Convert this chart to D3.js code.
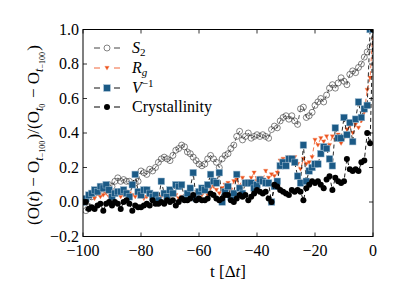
<!DOCTYPE html>
<html><head><meta charset="utf-8">
<script src="https://cdn.jsdelivr.net/npm/d3@7"></script>
<style>body{margin:0;background:#fff}svg{display:block}</style>
</head><body><svg id="c" width="415" height="297" font-family="'Liberation Serif', 'DejaVu Serif', serif"></svg>
<script>
const tValues = d3.range(-100, 1);
const s2 = [0.00,-0.05,-0.03,0.03,0.05,0.06,0.05,0.08,0.07,0.10,0.09,0.12,0.14,0.12,0.13,0.12,0.12,0.10,0.11,0.12,
0.18,0.17,0.16,0.19,0.18,0.20,0.23,0.25,0.26,0.25,0.24,0.27,0.30,0.31,0.33,0.32,0.29,0.28,0.26,0.24,
0.22,0.21,0.22,0.25,0.27,0.25,0.23,0.20,0.25,0.27,0.28,0.31,0.33,0.38,0.41,0.36,0.38,0.40,0.37,0.38,
0.39,0.38,0.39,0.38,0.37,0.42,0.44,0.43,0.47,0.49,0.50,0.48,0.50,0.47,0.45,0.54,0.55,0.49,0.50,0.52,
0.56,0.58,0.60,0.58,0.62,0.66,0.68,0.66,0.69,0.72,0.70,0.68,0.74,0.76,0.75,0.78,0.80,0.84,0.87,0.90,1.00];
const rg = [0.00,0.02,0.03,0.04,0.02,0.05,0.03,0.04,0.05,0.03,0.04,0.06,0.05,0.03,0.04,0.06,0.05,0.04,0.03,0.05,
0.04,0.02,0.03,0.04,0.02,0.03,0.01,0.03,0.04,0.02,0.03,0.05,0.04,0.02,0.03,0.03,0.02,0.04,0.02,0.03,
0.05,0.04,0.06,0.04,0.08,0.09,0.07,0.05,0.08,0.10,0.11,0.07,0.12,0.13,0.09,0.14,0.10,0.12,0.14,0.17,
0.12,0.14,0.13,0.18,0.14,0.16,0.15,0.17,0.24,0.25,0.22,0.26,0.24,0.26,0.22,0.19,0.25,0.22,0.23,0.26,
0.36,0.33,0.37,0.35,0.38,0.33,0.38,0.36,0.39,0.34,0.37,0.42,0.44,0.40,0.45,0.43,0.47,0.52,0.65,0.72,1.00];
const vinv = [0.00,0.02,0.04,0.05,0.07,0.06,0.09,0.08,0.10,0.07,0.03,0.05,0.06,0.06,0.07,0.05,0.03,0.10,0.16,0.06,
0.04,0.07,0.07,0.05,0.03,0.04,0.01,0.12,0.05,0.03,0.07,0.05,0.10,0.09,0.10,0.02,0.05,0.08,0.17,0.02,
0.06,0.08,0.07,0.10,0.16,0.12,0.11,0.17,0.00,0.06,0.09,0.03,0.05,0.16,0.08,0.05,0.11,0.11,0.11,0.08,
0.10,0.13,0.12,0.11,0.11,0.00,0.09,0.12,0.21,0.23,0.21,0.25,0.25,0.23,0.15,0.11,0.33,0.12,0.18,0.20,
0.22,0.22,0.28,0.32,0.31,0.25,0.21,0.43,0.37,0.37,0.49,0.39,0.46,0.35,0.48,0.58,0.49,0.54,0.56,1.00,1.00];
const cryst = [0.00,0.00,-0.04,-0.03,-0.04,-0.02,-0.01,-0.05,-0.01,0.00,-0.02,0.00,-0.01,-0.04,0.00,0.01,-0.01,-0.05,-0.02,-0.03,
-0.03,-0.02,-0.01,-0.02,0.01,-0.01,-0.01,0.00,-0.01,0.01,0.00,0.01,-0.02,0.00,0.02,0.01,0.01,0.02,0.04,0.01,
0.02,0.01,0.01,0.02,0.05,0.04,0.02,0.01,0.02,0.04,0.04,0.01,0.00,0.02,0.04,0.03,0.04,0.01,0.03,0.05,
0.07,0.06,0.05,0.06,0.02,0.00,0.10,0.09,0.07,0.06,0.05,0.04,0.07,0.06,0.07,0.06,0.01,0.08,0.10,0.12,
0.11,0.12,0.10,0.08,0.13,0.15,0.07,0.14,0.12,0.11,0.12,0.25,0.19,0.18,0.19,0.18,0.23,0.24,0.40,0.34,1.00];
const xTicks = [-100,-80,-60,-40,-20,0];
const yTicks = [-0.2,0.0,0.2,0.4,0.6,0.8,1.0];
const seriesNames = ["S2","Rg","Vinv","Crystallinity"];

const svg = d3.select("#c");
const L=83, R=373, T=29.5, B=236.5;
const x = d3.scaleLinear().domain([-100,0]).range([L,R]);
const y = d3.scaleLinear().domain([-0.2,1.0]).range([B,T]);

const series = [
 {name:"S2", vals:s2, line:"#444", dash:"4,3", marker:"circleOpen"},
 {name:"Rg", vals:rg, line:"#f0663a", dash:"4,3", marker:"tri"},
 {name:"Vinv", vals:vinv, line:"#111", dash:"4,3", marker:"square"},
 {name:"Crystallinity", vals:cryst, line:"#000", dash:"4,3", marker:"dot"}
];

function drawMarker(g, type, cx, cy){
  if(type==="circleOpen") g.append("circle").attr("cx",cx).attr("cy",cy).attr("r",3).attr("fill","none").attr("stroke","#333").attr("stroke-width",0.6);
  else if(type==="tri") g.append("path").attr("d",`M${cx-2.2},${cy-1.7}L${cx+2.2},${cy-1.7}L${cx},${cy+2.1}Z`).attr("fill","#ec4f1a").attr("stroke","#f58b60").attr("stroke-width",0.4);
  else if(type==="square") g.append("rect").attr("x",cx-3.3).attr("y",cy-3.3).attr("width",6.6).attr("height",6.6).attr("fill","#1b5a86").attr("stroke","#9cb9cf").attr("stroke-width",0.5);
  else if(type==="dot") g.append("circle").attr("cx",cx).attr("cy",cy).attr("r",3).attr("fill","#000");
}

svg.append("clipPath").attr("id","pc").append("rect").attr("x",L).attr("y",T).attr("width",R-L).attr("height",B-T);
const plot = svg.append("g").attr("clip-path","url(#pc)");
const lineGen = d3.line().x((d,i)=>x(tValues[i])).y(d=>y(d));
series.forEach(s=>{
  const g = plot.append("g");
  g.append("path").attr("d",lineGen(s.vals)).attr("fill","none").attr("stroke",s.line).attr("stroke-width",0.9).attr("stroke-dasharray",s.dash);
  s.vals.forEach((v,i)=>drawMarker(g,s.marker,x(tValues[i]),y(v)));
});

svg.append("rect").attr("x",L).attr("y",T).attr("width",R-L).attr("height",B-T).attr("fill","none").attr("stroke","#000").attr("stroke-width",1);
const tk = svg.append("g").attr("stroke","#000").attr("stroke-width",0.8);
xTicks.forEach(t=>{
  tk.append("line").attr("x1",x(t)).attr("x2",x(t)).attr("y1",B).attr("y2",B-4);
  tk.append("line").attr("x1",x(t)).attr("x2",x(t)).attr("y1",T).attr("y2",T+4);
});
yTicks.forEach(t=>{
  tk.append("line").attr("x1",L).attr("x2",L+4).attr("y1",y(t)).attr("y2",y(t));
  tk.append("line").attr("x1",R).attr("x2",R-4).attr("y1",y(t)).attr("y2",y(t));
});
const fmtY = d=> (d<0?"\u2212":"")+Math.abs(d).toFixed(1);
const fmtX = d=> (d<0?"\u2212":"")+Math.abs(d);
svg.append("g").selectAll("text").data(yTicks).join("text")
  .attr("x",L-4).attr("y",d=>y(d)+5).attr("text-anchor","end").attr("font-size",16).text(fmtY);
svg.append("g").selectAll("text").data(xTicks).join("text")
  .attr("x",d=>x(d)).attr("y",B+19.5).attr("text-anchor","middle").attr("font-size",16).text(fmtX);

const xl = svg.append("text").attr("x",228).attr("y",277).attr("text-anchor","middle").attr("font-size",17);
xl.append("tspan").text("t [\u0394");
xl.append("tspan").attr("font-style","italic").text("t");
xl.append("tspan").text("]");

const yl = svg.append("text").attr("transform","translate(39,135) rotate(-90)").attr("text-anchor","middle").attr("font-size",17);
function O_sub(el, sub2){
  el.append("tspan").text("O");
  el.append("tspan").attr("font-style","italic").attr("font-size",12).attr("dy",4).text("t");
  el.append("tspan").attr("font-size",8).attr("dy",2).text(sub2);
  el.append("tspan").attr("dy",-6).text("\u200a");
}
yl.append("tspan").text("(O(");
yl.append("tspan").attr("font-style","italic").text("t");
yl.append("tspan").text(") \u2212 ");
O_sub(yl,"\u2212100");
yl.append("tspan").text(")/(");
O_sub(yl,"0");
yl.append("tspan").text(" \u2212 ");
O_sub(yl,"\u2212100");
yl.append("tspan").text(")");

const legY = [48,68,88,107];
series.forEach((s,i)=>{
  const g = svg.append("g");
  const yy = legY[i];
  g.append("line").attr("x1",94).attr("x2",100).attr("y1",yy).attr("y2",yy).attr("stroke",s.line).attr("stroke-width",1);
  g.append("line").attr("x1",114).attr("x2",120).attr("y1",yy).attr("y2",yy).attr("stroke",s.line).attr("stroke-width",1);
  drawMarker(g,s.marker,107,yy);
  const tx = g.append("text").attr("x",132).attr("y",yy+5).attr("font-size",16);
  if(s.name==="S2"){tx.append("tspan").attr("font-style","italic").text("S");tx.append("tspan").attr("font-size",11).attr("dy",3).text("2");}
  else if(s.name==="Rg"){tx.append("tspan").attr("font-style","italic").text("R");tx.append("tspan").attr("font-style","italic").attr("font-size",11).attr("dy",3).text("g");}
  else if(s.name==="Vinv"){tx.append("tspan").attr("font-style","italic").text("V");tx.append("tspan").attr("font-size",11).attr("dy",-6).text("\u22121");}
  else tx.text("Crystallinity");
});
</script></body></html>
